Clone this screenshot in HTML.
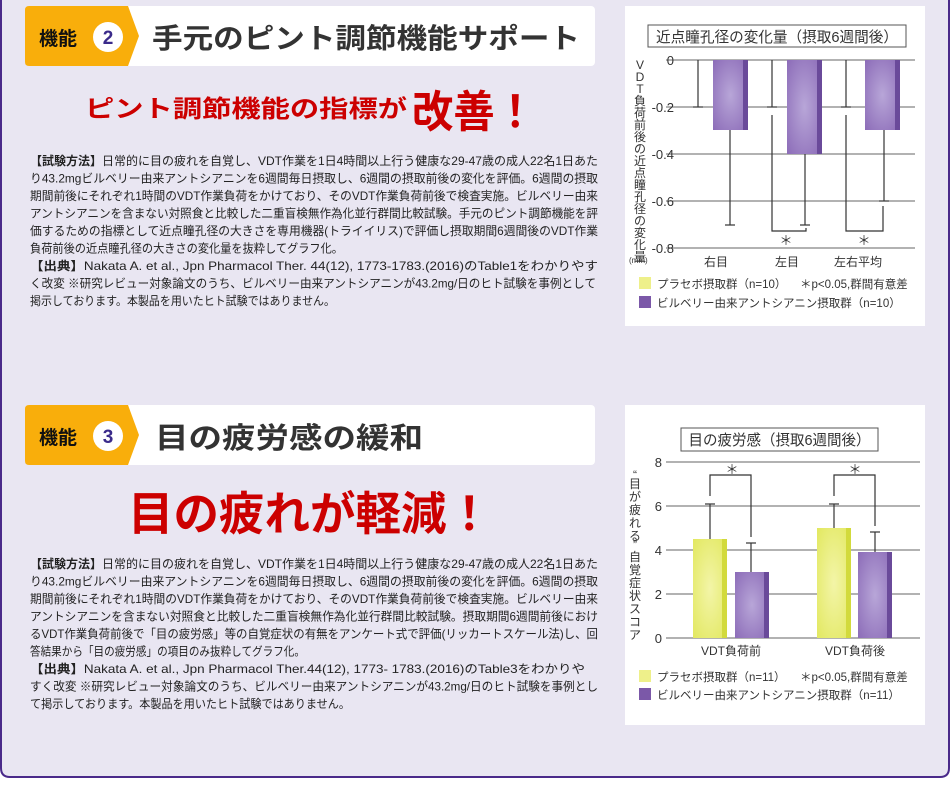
<!DOCTYPE html>
<html><head><meta charset="utf-8"><style>
html,body{margin:0;padding:0;background:#fff;}
svg{display:block;font-family:"Liberation Sans","Noto Sans CJK JP",sans-serif;}
</style></head><body>
<svg width="950" height="802" viewBox="0 0 950 802" xmlns="http://www.w3.org/2000/svg">
<defs>
<radialGradient id="pg" cx="0.5" cy="0.5" r="0.7"><stop offset="0" stop-color="#b8a6d8"/><stop offset="1" stop-color="#8c6cb8"/></radialGradient>
<radialGradient id="yg" cx="0.5" cy="0.5" r="0.7"><stop offset="0" stop-color="#f3f5a8"/><stop offset="1" stop-color="#e2e860"/></radialGradient>
</defs>
<path d="M1,0 V768 Q1,777 10,777 H940 Q949,777 949,768 V0" fill="#e9e6f2" stroke="#4a2a8a" stroke-width="2"/>

<!-- header 1 -->
<rect x="25" y="6" width="570" height="60" rx="4" fill="#fff"/>
<path d="M29,6 H128 L139,36 L128,66 H29 Q25,66 25,62 V10 Q25,6 29,6Z" fill="#f9ae0b"/>
<text x="39" y="45" font-size="19" font-weight="bold" fill="#111">機能</text>
<circle cx="108" cy="37" r="15" fill="#fff"/>
<text x="108" y="44" font-size="19" font-weight="bold" fill="#3a2a8a" text-anchor="middle">2</text>
<text x="152" y="48" font-size="28" font-weight="bold" fill="#333" textLength="428" lengthAdjust="spacingAndGlyphs">手元のピント調節機能サポート</text>
<text x="85" y="117" font-size="24" font-weight="bold" fill="#c00" textLength="322" lengthAdjust="spacingAndGlyphs">ピント調節機能の指標が</text>
<text x="412" y="127" font-size="44" font-weight="bold" fill="#c00" textLength="124" lengthAdjust="spacingAndGlyphs">改善！</text>

<g font-size="12" fill="#222">
<text x="30" y="165" textLength="568" lengthAdjust="spacingAndGlyphs"><tspan font-weight="bold">【試験方法】</tspan>日常的に目の疲れを自覚し、VDT作業を1日4時間以上行う健康な29-47歳の成人22名1日あた</text>
<text x="30" y="182.5" textLength="568" lengthAdjust="spacingAndGlyphs">り43.2mgビルベリー由来アントシアニンを6週間毎日摂取し、6週間の摂取前後の変化を評価。6週間の摂取</text>
<text x="30" y="200" textLength="568" lengthAdjust="spacingAndGlyphs">期間前後にそれぞれ1時間のVDT作業負荷をかけており、そのVDT作業負荷前後で検査実施。ビルベリー由来</text>
<text x="30" y="217.5" textLength="568" lengthAdjust="spacingAndGlyphs">アントシアニンを含まない対照食と比較した二重盲検無作為化並行群間比較試験。手元のピント調節機能を評</text>
<text x="30" y="235" textLength="568" lengthAdjust="spacingAndGlyphs">価するための指標として近点瞳孔径の大きさを専用機器(トライイリス)で評価し摂取期間6週間後のVDT作業</text>
<text x="30" y="252.5" textLength="313" lengthAdjust="spacingAndGlyphs">負荷前後の近点瞳孔径の大きさの変化量を抜粋してグラフ化。</text>
<text x="30" y="270" textLength="568" lengthAdjust="spacingAndGlyphs"><tspan font-weight="bold">【出典】</tspan>Nakata A. et al., Jpn Pharmacol Ther. 44(12), 1773-1783.(2016)のTable1をわかりやす</text>
<text x="30" y="287.5" textLength="566" lengthAdjust="spacingAndGlyphs">く改変 ※研究レビュー対象論文のうち、ビルベリー由来アントシアニンが43.2mg/日のヒト試験を事例として</text>
<text x="30" y="305" textLength="305" lengthAdjust="spacingAndGlyphs">掲示しております。本製品を用いたヒト試験ではありません。</text>
</g>

<!-- chart 1 -->
<rect x="625" y="6" width="300" height="320" fill="#fff"/>
<rect x="648" y="25" width="258" height="22" fill="#fff" stroke="#555" stroke-width="1"/>
<text x="777" y="42" font-size="15" fill="#333" text-anchor="middle" textLength="242" lengthAdjust="spacingAndGlyphs">近点瞳孔径の変化量（摂取6週間後）</text>
<g stroke="#666" stroke-width="1">
<line x1="666" y1="60" x2="915" y2="60"/><line x1="666" y1="107" x2="915" y2="107"/><line x1="666" y1="154" x2="915" y2="154"/><line x1="666" y1="201" x2="915" y2="201"/><line x1="666" y1="248" x2="915" y2="248"/>
</g>
<g font-size="13" fill="#333" text-anchor="end">
<text x="674" y="65">0</text><text x="674" y="112">-0.2</text><text x="674" y="159">-0.4</text><text x="674" y="206">-0.6</text><text x="674" y="253">-0.8</text>
</g>
<g font-size="12" fill="#333" text-anchor="middle">
<text x="640" y="69">V</text><text x="640" y="81">D</text><text x="640" y="93">T</text><text x="640" y="105">負</text><text x="640" y="117">荷</text><text x="640" y="129">前</text><text x="640" y="141">後</text><text x="640" y="153">の</text><text x="640" y="165">近</text><text x="640" y="177">点</text><text x="640" y="189">瞳</text><text x="640" y="201">孔</text><text x="640" y="213">径</text><text x="640" y="225">の</text><text x="640" y="237">変</text><text x="640" y="249">化</text><text x="640" y="261">量</text>
<text x="640" y="262" font-size="8" dy="0"></text>
</g>
<text x="629" y="263" font-size="8" fill="#333">(mm)</text>
<!-- bars -->
<g>
<rect x="713" y="60" width="35" height="70" fill="url(#pg)"/><rect x="743" y="60" width="5" height="70" fill="#6a4a9a"/>
<rect x="787" y="60" width="35" height="94" fill="url(#pg)"/><rect x="817" y="60" width="5" height="94" fill="#6a4a9a"/>
<rect x="865" y="60" width="35" height="70" fill="url(#pg)"/><rect x="895" y="60" width="5" height="70" fill="#6a4a9a"/>
</g>
<g stroke="#333" stroke-width="1.2" fill="none">
<line x1="698" y1="60" x2="698" y2="107"/><line x1="693" y1="107" x2="703" y2="107"/>
<line x1="772" y1="60" x2="772" y2="107"/><line x1="767" y1="107" x2="777" y2="107"/>
<line x1="846" y1="60" x2="846" y2="107"/><line x1="841" y1="107" x2="851" y2="107"/>
<line x1="730" y1="130" x2="730" y2="225"/><line x1="725" y1="225" x2="735" y2="225"/>
<line x1="805" y1="154" x2="805" y2="225"/><line x1="800" y1="225" x2="810" y2="225"/>
<line x1="884" y1="130" x2="884" y2="201"/><line x1="879" y1="201" x2="889" y2="201"/>
<polyline points="772,115 772,231 806,231 806,228"/>
<polyline points="846,115 846,231 883,231 883,206"/>
</g>
<text x="786" y="245" font-size="13" fill="#333" text-anchor="middle">＊</text>
<text x="864" y="245" font-size="13" fill="#333" text-anchor="middle">＊</text>
<g font-size="12" fill="#333" text-anchor="middle">
<text x="716" y="266">右目</text><text x="787" y="266">左目</text><text x="858" y="266">左右平均</text>
</g>
<rect x="639" y="277" width="12" height="12" fill="#eef08a"/>
<rect x="639" y="296" width="12" height="12" fill="#7b58a8"/>
<g font-size="11.5" fill="#333">
<text x="657" y="288">プラセボ摂取群（n=10）</text>
<text x="800" y="288">＊p&lt;0.05,群間有意差</text>
<text x="657" y="307">ビルベリー由来アントシアニン摂取群（n=10）</text>
</g>

<!-- header 2 -->
<rect x="25" y="405" width="570" height="60" rx="4" fill="#fff"/>
<path d="M29,405 H128 L139,435 L128,465 H29 Q25,465 25,461 V409 Q25,405 29,405Z" fill="#f9ae0b"/>
<text x="39" y="444" font-size="19" font-weight="bold" fill="#111">機能</text>
<circle cx="108" cy="436" r="15" fill="#fff"/>
<text x="108" y="443" font-size="19" font-weight="bold" fill="#3a2a8a" text-anchor="middle">3</text>
<text x="155" y="448" font-size="29" font-weight="bold" fill="#333" textLength="268" lengthAdjust="spacingAndGlyphs">目の疲労感の緩和</text>
<text x="128" y="530" font-size="46" font-weight="bold" fill="#c00" textLength="364" lengthAdjust="spacingAndGlyphs">目の疲れが軽減！</text>

<g font-size="12" fill="#222">
<text x="30" y="568" textLength="568" lengthAdjust="spacingAndGlyphs"><tspan font-weight="bold">【試験方法】</tspan>日常的に目の疲れを自覚し、VDT作業を1日4時間以上行う健康な29-47歳の成人22名1日あた</text>
<text x="30" y="585.5" textLength="568" lengthAdjust="spacingAndGlyphs">り43.2mgビルベリー由来アントシアニンを6週間毎日摂取し、6週間の摂取前後の変化を評価。6週間の摂取</text>
<text x="30" y="603" textLength="568" lengthAdjust="spacingAndGlyphs">期間前後にそれぞれ1時間のVDT作業負荷をかけており、そのVDT作業負荷前後で検査実施。ビルベリー由来</text>
<text x="30" y="620.5" textLength="568" lengthAdjust="spacingAndGlyphs">アントシアニンを含まない対照食と比較した二重盲検無作為化並行群間比較試験。摂取期間6週間前後におけ</text>
<text x="30" y="638" textLength="568" lengthAdjust="spacingAndGlyphs">るVDT作業負荷前後で「目の疲労感」等の自覚症状の有無をアンケート式で評価(リッカートスケール法)し、回</text>
<text x="30" y="655.5" textLength="275" lengthAdjust="spacingAndGlyphs">答結果から「目の疲労感」の項目のみ抜粋してグラフ化。</text>
<text x="30" y="673" textLength="555" lengthAdjust="spacingAndGlyphs"><tspan font-weight="bold">【出典】</tspan>Nakata A. et al., Jpn Pharmacol Ther.44(12), 1773- 1783.(2016)のTable3をわかりや</text>
<text x="30" y="690.5" textLength="568" lengthAdjust="spacingAndGlyphs">すく改変 ※研究レビュー対象論文のうち、ビルベリー由来アントシアニンが43.2mg/日のヒト試験を事例とし</text>
<text x="30" y="708" textLength="320" lengthAdjust="spacingAndGlyphs">て掲示しております。本製品を用いたヒト試験ではありません。</text>
</g>

<!-- chart 2 -->
<rect x="625" y="405" width="300" height="320" fill="#fff"/>
<rect x="681" y="428" width="197" height="23" fill="#fff" stroke="#555" stroke-width="1"/>
<text x="779.5" y="445" font-size="15" fill="#333" text-anchor="middle" textLength="182" lengthAdjust="spacingAndGlyphs">目の疲労感（摂取6週間後）</text>
<g stroke="#666" stroke-width="1">
<line x1="666" y1="462" x2="920" y2="462"/><line x1="666" y1="506" x2="920" y2="506"/><line x1="666" y1="550" x2="920" y2="550"/><line x1="666" y1="594" x2="920" y2="594"/><line x1="666" y1="638" x2="920" y2="638"/>
</g>
<g font-size="13" fill="#333" text-anchor="end">
<text x="662" y="467">8</text><text x="662" y="511">6</text><text x="662" y="555">4</text><text x="662" y="599">2</text><text x="662" y="643">0</text>
</g>
<g font-size="12" fill="#333" text-anchor="middle">
<text x="635" y="479">“</text><text x="635" y="488">目</text><text x="635" y="501">が</text><text x="635" y="514">疲</text><text x="635" y="527">れ</text><text x="635" y="540">る</text><text x="635" y="549">”</text><text x="635" y="561">自</text><text x="635" y="574">覚</text><text x="635" y="587">症</text><text x="635" y="600">状</text><text x="635" y="613">ス</text><text x="635" y="626">コ</text><text x="635" y="639">ア</text>
</g>
<g>
<rect x="693" y="539" width="34" height="99" fill="url(#yg)"/><rect x="722" y="539" width="5" height="99" fill="#d2da3c"/>
<rect x="735" y="572" width="34" height="66" fill="url(#pg)"/><rect x="764" y="572" width="5" height="66" fill="#6a4a9a"/>
<rect x="817" y="528" width="34" height="110" fill="url(#yg)"/><rect x="846" y="528" width="5" height="110" fill="#d2da3c"/>
<rect x="858" y="552" width="34" height="86" fill="url(#pg)"/><rect x="887" y="552" width="5" height="86" fill="#6a4a9a"/>
</g>
<g stroke="#333" stroke-width="1.2" fill="none">
<line x1="710" y1="539" x2="710" y2="504"/><line x1="705" y1="504" x2="715" y2="504"/>
<line x1="751" y1="572" x2="751" y2="543"/><line x1="746" y1="543" x2="756" y2="543"/>
<line x1="834" y1="528" x2="834" y2="504"/><line x1="829" y1="504" x2="839" y2="504"/>
<line x1="875" y1="552" x2="875" y2="532"/><line x1="870" y1="532" x2="880" y2="532"/>
<polyline points="710,496 710,475 751,475 751,537"/>
<polyline points="834,496 834,475 875,475 875,526"/>
</g>
<text x="732" y="474" font-size="13" fill="#333" text-anchor="middle">＊</text>
<text x="855" y="474" font-size="13" fill="#333" text-anchor="middle">＊</text>
<g font-size="12" fill="#333" text-anchor="middle">
<text x="731" y="655">VDT負荷前</text><text x="855" y="655">VDT負荷後</text>
</g>
<rect x="639" y="670" width="12" height="12" fill="#eef08a"/>
<rect x="639" y="688" width="12" height="12" fill="#7b58a8"/>
<g font-size="11.5" fill="#333">
<text x="657" y="681">プラセボ摂取群（n=11）</text>
<text x="800" y="681">＊p&lt;0.05,群間有意差</text>
<text x="657" y="699">ビルベリー由来アントシアニン摂取群（n=11）</text>
</g>
</svg>
</body></html>
